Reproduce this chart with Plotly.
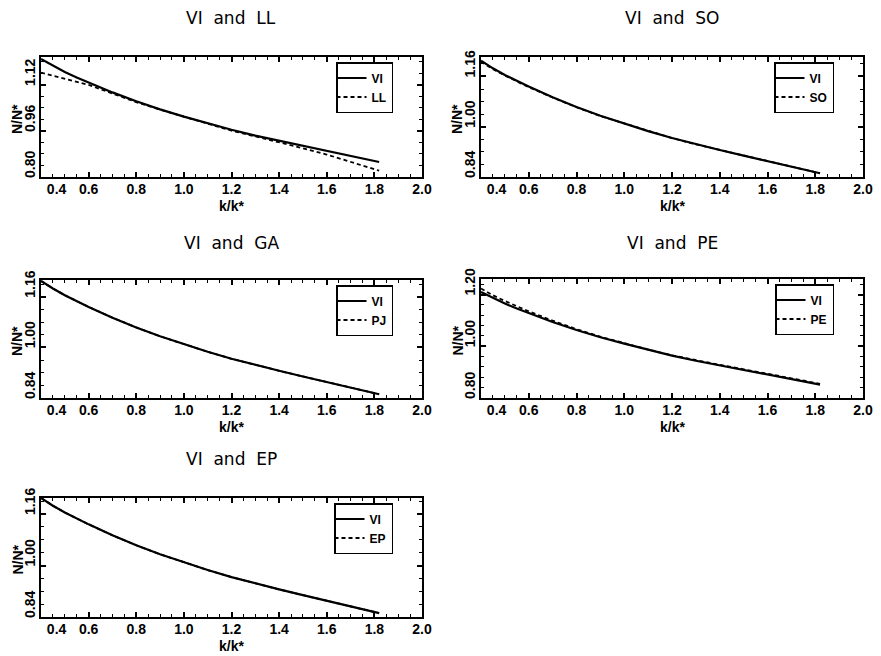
import plotly.graph_objects as go

# ---- data ----
k = [0.40, 0.45, 0.50, 0.55, 0.60, 0.70, 0.80, 0.90, 1.00, 1.10, 1.20, 1.30, 1.40, 1.50, 1.60, 1.70, 1.82]
VI = [1.210, 1.186, 1.165, 1.146, 1.128, 1.094, 1.063, 1.035, 1.010, 0.986, 0.964, 0.944, 0.926, 0.908, 0.890, 0.872, 0.852]
LL = [1.163, 1.152, 1.142, 1.131, 1.120, 1.090, 1.060, 1.034, 1.010, 0.985, 0.961, 0.941, 0.921, 0.900, 0.878, 0.852, 0.822]
SO = [1.207, 1.183, 1.163, 1.144, 1.126, 1.093, 1.062, 1.034, 1.010, 0.986, 0.964, 0.944, 0.926, 0.908, 0.890, 0.872, 0.852]
PJ = [1.210, 1.186, 1.165, 1.146, 1.128, 1.094, 1.063, 1.035, 1.010, 0.986, 0.964, 0.944, 0.926, 0.908, 0.890, 0.872, 0.852]
PE = [1.223, 1.197, 1.175, 1.154, 1.135, 1.099, 1.066, 1.037, 1.011, 0.987, 0.965, 0.946, 0.928, 0.911, 0.893, 0.875, 0.855]
EP = [1.210, 1.186, 1.165, 1.146, 1.128, 1.094, 1.063, 1.035, 1.010, 0.986, 0.964, 0.944, 0.926, 0.908, 0.890, 0.872, 0.852]

titles = ["VI  and  LL", "VI  and  SO", "VI  and  GA", "VI  and  PE", "VI  and  EP"]
second_names = ["LL", "SO", "PJ", "PE", "EP"]
second_series = [LL, SO, PJ, PE, EP]
y_ranges = [[0.80, 1.217], [0.84, 1.222], [0.84, 1.213], [0.80, 1.26], [0.84, 1.21]]
y_ticks = [[0.80, 0.96, 1.12], [0.84, 1.00, 1.16], [0.84, 1.00, 1.16], [0.80, 1.00, 1.20], [0.84, 1.00, 1.16]]
x_ticks = [0.4, 0.6, 0.8, 1.0, 1.2, 1.4, 1.6, 1.8, 2.0]
x_ticktext = ["\u2007\u2007\u2007\u20070.4", "0.6", "0.8", "1.0", "1.2", "1.4", "1.6", "1.8", "2.0"]
x_title = "k/k*"
y_title = "N/N*"

W, H = 881, 656
# panel boxes in pixels (left, right, top, bottom)
boxes = [(41, 422, 57, 177), (481, 863, 57, 177),
         (41, 422, 280, 398), (481, 863, 279, 398),
         (41, 422, 498, 617)]
title_y = [18, 18, 243, 243, 459]

fig = go.Figure()
layout = dict(width=W, height=H, margin=dict(l=0, r=0, t=0, b=0, autoexpand=False),
              paper_bgcolor="white", plot_bgcolor="white",
              font=dict(family="Liberation Sans, Arial, sans-serif", color="black"),
              annotations=[])

tick_font = dict(family="Liberation Sans, Arial, sans-serif", size=14, color="black", weight="bold")
lab_font = dict(family="Liberation Sans, Arial, sans-serif", size=14, color="black", weight="bold")

for i in range(5):
    n = i + 1
    xa = "x" if n == 1 else f"x{n}"
    ya = "y" if n == 1 else f"y{n}"
    lg = "legend" if n == 1 else f"legend{n}"
    l, r, t, b = boxes[i]
    fig.add_trace(go.Scatter(x=k, y=VI, mode="lines", name="VI", xaxis=xa, yaxis=ya,
                             legend=lg, line=dict(color="black", width=2.2)))
    fig.add_trace(go.Scatter(x=k, y=second_series[i], mode="lines", name=second_names[i],
                             xaxis=xa, yaxis=ya, legend=lg,
                             line=dict(color="black", width=1.8, dash="4px,3px")))
    axcommon = dict(showline=True, linecolor="black", linewidth=2, mirror="ticks",
                    ticks="inside", tickcolor="black", tickwidth=1.5, ticklen=5,
                    showgrid=False, zeroline=False, tickfont=tick_font, automargin=False)
    layout["xaxis" if n == 1 else f"xaxis{n}"] = dict(
        axcommon, domain=[l / W, r / W], anchor=ya, range=[0.4, 2.0],
        tickvals=x_ticks, ticktext=x_ticktext, ticklabelstandoff=-2,
        minor=dict(ticks="inside", ticklen=3, tickcolor="black", dtick=0.05, tickwidth=1))
    layout["yaxis" if n == 1 else f"yaxis{n}"] = dict(
        axcommon, domain=[1 - b / H, 1 - t / H], anchor=xa, range=y_ranges[i],
        tickvals=y_ticks[i], ticktext=[f"{v:.2f}" for v in y_ticks[i]],
        tickangle=-90, ticklabelposition="outside top", ticklabelstandoff=-2,
        minor=dict(ticks="inside", ticklen=3, tickcolor="black", dtick=0.04, tickwidth=1))
    layout[lg] = dict(x=(r - 29) / W, y=1 - (t + 5) / H, xanchor="right", yanchor="top",
                      bordercolor="black", borderwidth=1.5, bgcolor="white",
                      font=dict(size=12, weight="bold"), itemwidth=30, indentation=-6,
                      tracegroupgap=0)
    layout["annotations"].append(dict(
        text=titles[i], x=(l + r) / 2 / W, y=1 - title_y[i] / H, xref="paper", yref="paper",
        showarrow=False, xanchor="center", yanchor="middle",
        font=dict(family="DejaVu Sans, sans-serif", size=17, color="black")))
    layout["annotations"].append(dict(
        text=x_title, x=(l + r) / 2 / W, y=1 - (b + 29) / H, xref="paper", yref="paper",
        showarrow=False, xanchor="center", yanchor="middle", font=lab_font))
    layout["annotations"].append(dict(
        text=y_title, x=(l - 24) / W, y=1 - ((t + b) / 2 + 2) / H, xref="paper", yref="paper",
        showarrow=False, xanchor="center", yanchor="middle", textangle=-90, font=lab_font))

fig.update_layout(**layout)
fig.write_html("out.html")
